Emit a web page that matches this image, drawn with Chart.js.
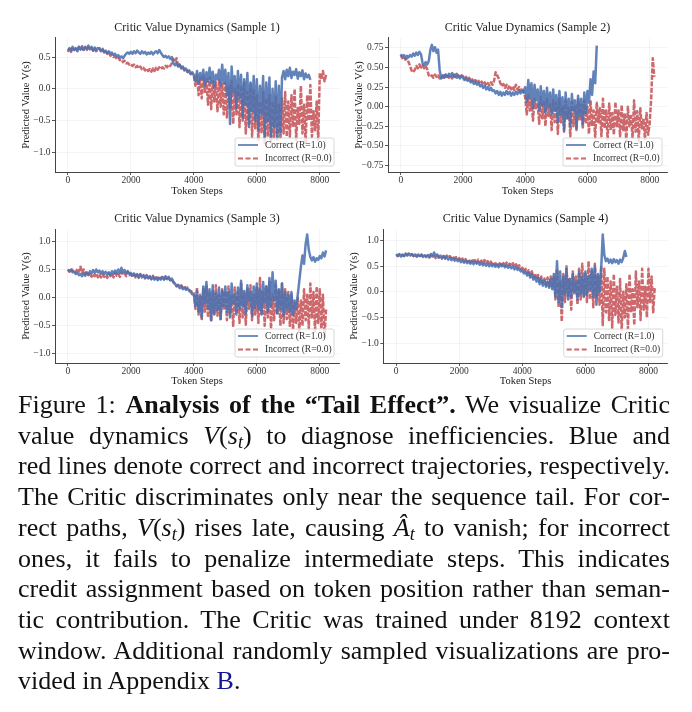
<!DOCTYPE html>
<html>
<head>
<meta charset="utf-8">
<script src="https://cdn.jsdelivr.net/npm/chart.js"></script>
<style>
  body { margin: 0; background: #fff; width: 692px; height: 712px; position: relative; overflow: hidden; }
  canvas { position: absolute; }
  #c1 { left: 0; top: 0; }
  #c2 { left: 346px; top: 0; }
  #c3 { left: 0; top: 200px; }
  #c4 { left: 346px; top: 200px; }
  #caption {
    position: absolute; left: 18px; top: 390px; width: 652px;
    font-family: 'Liberation Serif', 'Times New Roman', serif;
    font-size: 26px; line-height: 30.7px; color: #111;
  }
  #caption .ln { text-align: justify; text-align-last: justify; word-spacing: -3px; }
  #caption .ln.last { text-align: left; text-align-last: left; word-spacing: 0; }
  #caption sub { font-size: 0.7em; line-height: 0; vertical-align: -0.22em; }
  #caption .ref { color: rgb(20, 20, 150); }
</style>
</head>
<body>
<canvas id="c1" width="346" height="200"></canvas>
<canvas id="c2" width="346" height="200"></canvas>
<canvas id="c3" width="346" height="200"></canvas>
<canvas id="c4" width="346" height="200"></canvas>

<div id="caption">
  <div class="ln">Figure 1: <b>Analysis of the “Tail Effect”.</b> We visualize Critic</div>
  <div class="ln">value dynamics <i>V</i>(<i>s<sub>t</sub></i>) to diagnose inefficiencies. Blue and</div>
  <div class="ln">red lines denote correct and incorrect trajectories, respectively.</div>
  <div class="ln">The Critic discriminates only near the sequence tail. For cor-</div>
  <div class="ln">rect paths, <i>V</i>(<i>s<sub>t</sub></i>) rises late, causing <i>Â<sub>t</sub></i> to vanish; for incorrect</div>
  <div class="ln">ones, it fails to penalize intermediate steps. This indicates</div>
  <div class="ln">credit assignment based on token position rather than seman-</div>
  <div class="ln">tic contribution. The Critic was trained under 8192 context</div>
  <div class="ln">window. Additional randomly sampled visualizations are pro-</div>
  <div class="ln last">vided in Appendix <span class="ref">B</span>.</div>
</div>

<script>
// token step between two stored values
const STEP = 50;

const xTicks = [0, 2000, 4000, 6000, 8000];

// Sample 1
const correct1 = [
  0.58,0.63,0.60,0.66,0.61,0.64,0.59,0.66,0.62,0.67,0.61,0.65,0.63,0.68,0.62,0.66,0.60,0.65,0.61,0.64,
  0.63,0.59,0.62,0.58,0.60,0.56,0.59,0.55,0.57,0.53,0.55,0.51,0.53,0.49,0.51,0.48,0.52,0.55,0.57,0.55,
  0.58,0.55,0.59,0.56,0.60,0.57,0.55,0.59,0.56,0.58,0.54,0.57,0.55,0.58,0.54,0.57,0.59,0.56,0.61,0.57,
  0.53,0.50,0.52,0.49,0.51,0.47,0.50,0.40,0.37,0.41,0.35,0.38,0.33,0.35,0.30,0.32,0.27,0.29,0.24,0.26,
  0.22,0.12,0.28,0.08,0.25,0.15,0.30,0.05,0.26,0.12,0.33,0.10,0.27,0.02,0.22,0.15,0.30,0.05,0.38,0.08,
  0.30,-0.10,0.25,-0.55,0.35,-0.05,0.20,-0.30,0.28,-0.15,0.22,-0.45,0.15,-0.25,0.25,-0.60,0.10,-0.35,0.20,-0.50,
  0.15,-0.65,0.05,-0.40,0.20,-0.75,0.10,-0.50,0.18,-0.80,0.00,-0.60,0.12,-0.78,0.05,-0.70,
  0.18,0.28,0.15,0.30,0.20,0.33,0.17,0.27,0.22,0.31,0.16,0.26,0.20,0.29,0.15,0.24,0.18,0.22,0.14
];
const incorrect1 = [
  0.60,0.64,0.58,0.65,0.61,0.63,0.60,0.66,0.62,0.64,0.60,0.66,0.61,0.65,0.62,0.64,0.60,0.63,0.59,0.62,
  0.64,0.60,0.63,0.57,0.59,0.55,0.57,0.52,0.54,0.50,0.51,0.47,0.49,0.45,0.46,0.42,0.44,0.40,0.41,0.38,
  0.39,0.36,0.38,0.34,0.36,0.32,0.35,0.31,0.33,0.29,0.32,0.28,0.31,0.27,0.32,0.28,0.33,0.30,0.34,0.31,
  0.34,0.32,0.36,0.34,0.38,0.36,0.40,0.47,0.42,0.48,0.36,0.38,0.32,0.34,0.29,0.31,0.26,0.28,0.23,0.24,
  0.20,0.05,0.22,-0.10,0.18,-0.15,0.20,-0.05,0.15,-0.25,0.18,-0.32,0.12,-0.20,0.10,-0.35,0.15,-0.28,0.08,-0.40,
  0.10,-0.45,0.05,-0.30,0.12,-0.55,0.00,-0.40,0.08,-0.60,0.05,-0.50,0.10,-0.70,-0.05,-0.55,0.08,-0.75,0.00,-0.62,
  -0.10,-0.80,-0.20,-0.70,-0.05,-0.85,-0.15,-0.75,-0.10,-0.85,-0.20,-0.78,-0.12,-0.82,-0.25,-0.80,-0.15,-0.70,-0.05,-0.75,
  -0.20,-0.75,-0.10,-0.60,0.00,-0.80,-0.30,-0.55,0.05,-0.70,-0.25,-0.85,-0.10,-0.50,0.06,-0.75,-0.35,-0.65,-0.20,-0.80,
  0.25,0.15,0.28,0.12,0.22
];
const yTicks1 = [-1.0, -0.5, 0.0, 0.5];

// Sample 2
const correct2 = [
  0.67,0.64,0.66,0.62,0.65,0.63,0.66,0.64,0.68,0.65,0.69,0.66,0.70,0.67,0.56,0.53,0.57,0.54,0.58,0.72,
  0.79,0.71,0.76,0.69,0.73,0.47,0.36,0.40,0.37,0.41,0.38,0.42,0.39,0.43,0.38,0.41,0.37,0.40,0.36,0.39,
  0.37,0.34,0.36,0.33,0.35,0.31,0.33,0.29,0.32,0.28,0.30,0.26,0.28,0.24,0.27,0.22,0.25,0.21,0.24,0.20,
  0.21,0.17,0.20,0.15,0.19,0.14,0.18,0.15,0.20,0.16,0.19,0.14,0.18,0.15,0.19,0.16,0.21,0.17,0.20,0.18,
  0.25,0.05,0.34,0.10,0.30,-0.02,0.28,0.08,0.22,-0.05,0.26,0.02,0.20,-0.08,0.24,0.00,0.18,-0.10,0.22,-0.05,
  0.15,-0.20,0.20,-0.10,0.12,-0.30,0.18,-0.15,0.10,-0.25,0.16,-0.05,0.08,-0.28,0.14,-0.12,0.10,-0.22,0.18,-0.08,
  0.20,0.05,0.35,0.15,0.45,0.30,0.78
];
const incorrect2 = [
  0.66,0.62,0.64,0.60,0.61,0.57,0.52,0.46,0.44,0.47,0.52,0.49,0.54,0.50,0.53,0.49,0.52,0.48,0.40,0.38,
  0.40,0.37,0.41,0.38,0.40,0.36,0.39,0.37,0.42,0.38,0.41,0.37,0.40,0.36,0.41,0.38,0.42,0.39,0.37,0.40,
  0.39,0.35,0.38,0.34,0.37,0.33,0.35,0.31,0.34,0.30,0.33,0.29,0.32,0.28,0.31,0.27,0.30,0.27,0.31,0.28,
  0.33,0.44,0.40,0.36,0.30,0.26,0.29,0.24,0.28,0.23,0.27,0.22,0.26,0.21,0.28,0.22,0.25,0.20,0.24,0.19,
  0.12,-0.10,0.15,-0.05,0.08,-0.18,0.10,-0.02,0.05,-0.22,0.12,-0.15,0.06,-0.25,0.10,-0.12,0.03,-0.30,0.08,-0.20,
  0.05,-0.35,0.10,-0.20,0.00,-0.32,0.08,-0.15,-0.02,-0.38,0.06,-0.25,0.00,-0.30,0.10,-0.18,0.02,-0.28,0.08,-0.22,
  0.00,-0.35,0.08,-0.25,-0.05,-0.40,0.05,-0.20,-0.02,-0.38,0.10,-0.28,-0.05,-0.42,0.04,-0.30,-0.08,-0.36,0.06,-0.25,
  -0.05,-0.38,0.02,-0.30,-0.10,-0.45,0.00,-0.25,-0.12,-0.40,0.08,-0.32,-0.06,-0.44,-0.02,-0.28,-0.15,-0.42,-0.08,-0.36,
  -0.22,0.10,0.62,0.38
];
const yTicks2 = [-0.75, -0.5, -0.25, 0.0, 0.25, 0.5, 0.75];

// Sample 3
const correct3 = [
  0.50,0.47,0.49,0.45,0.46,0.42,0.44,0.40,0.42,0.38,0.43,0.39,0.45,0.41,0.47,0.43,0.49,0.44,0.50,0.45,
  0.48,0.43,0.47,0.42,0.46,0.41,0.45,0.40,0.47,0.42,0.48,0.43,0.50,0.44,0.53,0.45,0.49,0.43,0.47,0.42,
  0.44,0.39,0.43,0.38,0.42,0.37,0.41,0.36,0.40,0.35,0.39,0.34,0.38,0.33,0.37,0.32,0.36,0.31,0.35,0.32,
  0.36,0.32,0.38,0.33,0.37,0.31,0.34,0.28,0.25,0.20,0.22,0.17,0.20,0.15,0.18,0.14,0.16,0.12,0.10,0.06,
  0.05,-0.15,0.12,-0.25,0.02,-0.35,0.20,-0.10,0.28,-0.20,0.15,-0.40,0.22,-0.30,0.08,-0.22,0.18,-0.38,0.12,-0.15,
  0.20,-0.25,0.10,-0.35,0.25,-0.10,0.05,-0.30,0.18,-0.20,0.30,-0.15,0.12,-0.28,0.22,-0.05,0.10,-0.32,0.20,-0.18,
  0.25,-0.20,0.15,-0.30,0.28,-0.10,0.20,-0.25,0.35,-0.15,0.45,-0.05,0.30,-0.28,0.15,-0.20,0.25,-0.32,0.10,-0.22,
  0.05,-0.25,0.10,-0.30,-0.05,-0.20,0.05,0.30,0.55,0.75,0.60,0.95,1.12,0.85,0.72,0.66,0.72,0.64,0.70,0.67,
  0.74,0.70,0.80,0.73,0.84
];
const incorrect3 = [
  0.50,0.46,0.52,0.47,0.49,0.45,0.51,0.46,0.55,0.44,0.50,0.42,0.46,0.40,0.44,0.37,0.42,0.38,0.43,0.36,
  0.41,0.36,0.42,0.37,0.40,0.35,0.43,0.38,0.41,0.36,0.44,0.39,0.42,0.37,0.45,0.40,0.43,0.38,0.46,0.40,
  0.42,0.37,0.41,0.36,0.40,0.35,0.42,0.37,0.39,0.34,0.40,0.35,0.38,0.33,0.39,0.34,0.37,0.33,0.38,0.34,
  0.37,0.33,0.36,0.32,0.35,0.31,0.33,0.27,0.24,0.21,0.23,0.19,0.22,0.18,0.20,0.16,0.18,0.14,0.12,0.10,
  0.10,-0.20,0.18,-0.30,0.05,-0.40,0.15,-0.25,0.20,-0.35,0.08,-0.42,0.12,-0.28,0.22,-0.32,0.05,-0.38,0.15,-0.22,
  0.12,-0.40,0.20,-0.30,0.05,-0.50,0.18,-0.25,0.10,-0.45,0.25,-0.35,0.08,-0.48,0.15,-0.20,0.22,-0.40,0.05,-0.30,
  0.18,-0.45,0.35,-0.30,0.10,-0.50,0.20,-0.35,0.28,-0.55,0.05,-0.40,0.22,-0.30,0.12,-0.50,0.25,-0.45,0.15,-0.38,
  0.10,-0.50,0.05,-0.58,-0.10,-0.45,0.00,-0.60,-0.05,-0.50,0.15,-0.40,0.05,-0.55,0.25,-0.35,0.10,-0.62,0.20,-0.45,
  0.15,-0.55,0.05,-0.70,-0.20
];
const yTicks3 = [-1.0, -0.5, 0.0, 0.5, 1.0];

// Sample 4
const correct4 = [
  0.74,0.70,0.73,0.69,0.72,0.70,0.74,0.71,0.75,0.72,0.74,0.70,0.73,0.69,0.72,0.70,0.73,0.69,0.71,0.68,
  0.72,0.68,0.74,0.69,0.77,0.70,0.73,0.67,0.71,0.66,0.70,0.65,0.68,0.63,0.67,0.62,0.66,0.61,0.65,0.60,
  0.63,0.58,0.62,0.57,0.61,0.56,0.60,0.55,0.59,0.54,0.60,0.55,0.58,0.53,0.57,0.52,0.56,0.51,0.55,0.50,
  0.55,0.50,0.54,0.49,0.53,0.48,0.54,0.50,0.53,0.48,0.52,0.47,0.51,0.46,0.50,0.44,0.49,0.43,0.46,0.40,
  0.42,0.36,0.40,0.32,0.38,0.28,0.35,0.24,0.30,0.20,0.28,0.15,0.25,0.12,0.22,0.10,0.20,0.08,0.25,0.05,
  0.35,-0.10,0.60,-0.20,0.40,-0.30,0.30,-0.05,0.45,-0.15,0.25,-0.10,0.35,0.00,0.20,-0.15,0.40,-0.05,0.30,-0.10,
  0.40,-0.05,0.30,0.05,0.45,-0.10,0.50,-0.25,0.35,0.00,0.45,
  1.12,0.72,0.60,0.65,0.57,0.63,0.56,0.64,0.58,0.62,0.55,0.63,0.58,0.66,0.80,0.68
];
const incorrect4 = [
  0.72,0.70,0.74,0.71,0.73,0.70,0.75,0.72,0.74,0.71,0.73,0.70,0.72,0.69,0.73,0.70,0.72,0.68,0.71,0.69,
  0.71,0.67,0.72,0.68,0.70,0.66,0.71,0.67,0.69,0.65,0.70,0.66,0.71,0.67,0.70,0.66,0.69,0.65,0.68,0.64,
  0.66,0.61,0.65,0.60,0.64,0.59,0.63,0.58,0.64,0.59,0.62,0.57,0.63,0.58,0.61,0.56,0.62,0.57,0.60,0.56,
  0.59,0.54,0.58,0.53,0.57,0.52,0.58,0.53,0.56,0.51,0.57,0.52,0.55,0.50,0.56,0.49,0.54,0.47,0.52,0.45,
  0.47,0.40,0.45,0.36,0.42,0.32,0.40,0.28,0.36,0.24,0.33,0.20,0.30,0.17,0.26,0.14,0.28,0.12,0.30,0.08,
  0.30,-0.15,0.45,-0.30,0.20,-0.58,0.35,-0.20,0.50,-0.10,0.25,-0.35,0.40,-0.05,0.30,-0.25,0.45,-0.15,0.55,-0.10,
  0.35,-0.20,0.60,-0.15,0.40,-0.30,0.55,-0.10,0.30,-0.25,0.50,-0.65,0.45,-0.40,0.30,-0.55,0.20,-0.70,0.35,-0.45,
  0.10,-0.60,0.25,-0.75,0.00,-0.50,0.15,-0.72,0.35,-0.40,0.05,-0.65,0.40,-0.30,0.20,-0.55,0.45,-0.35,0.10,-0.50,
  0.45,-0.20,0.30,-0.40,0.10
];
const yTicks4 = [-1.0, -0.5, 0.0, 0.5, 1.0];

const SERIF = "'Liberation Serif', 'Times New Roman', serif";
const BLUE = 'rgba(76, 114, 176, 0.88)';
const RED = 'rgba(196, 78, 82, 0.85)';

function toPoints(values) {
  return values.map((v, i) => ({ x: i * STEP, y: v }));
}

function fmt(v, digits) {
  const s = Math.abs(v).toFixed(digits);
  return v < -1e-9 ? '\u2212' + s : s;
}

// matplotlib style legend box in the lower right of the plot area
const boxLegend = {
  id: 'boxLegend',
  afterDraw(chart) {
    const { ctx, chartArea: a } = chart;
    const w = 99, h = 28;
    const x = a.right - 5 - w, y = a.bottom - 6 - h;
    ctx.save();
    ctx.beginPath();
    ctx.roundRect(x, y, w, h, 2);
    ctx.fillStyle = 'rgba(255,255,255,0.8)';
    ctx.fill();
    ctx.strokeStyle = 'rgba(200,200,200,0.9)';
    ctx.lineWidth = 0.8;
    ctx.stroke();
    chart.data.datasets.forEach((ds, i) => {
      const ly = y + 7 + i * 13.5;
      ctx.beginPath();
      ctx.setLineDash(ds.legendDash || []);
      ctx.strokeStyle = ds.borderColor;
      ctx.lineWidth = 1.8;
      ctx.moveTo(x + 3, ly);
      ctx.lineTo(x + 23, ly);
      ctx.stroke();
      ctx.setLineDash([]);
      ctx.fillStyle = '#333';
      ctx.font = '9.5px ' + SERIF;
      ctx.textBaseline = 'middle';
      ctx.fillText(ds.label, x + 30, ly);
    });
    ctx.restore();
  }
};

function panel(id, p) {
  new Chart(document.getElementById(id), {
    type: 'line',
    data: {
      datasets: [
        { label: 'Correct (R=1.0)', data: toPoints(p.correct), borderColor: BLUE, borderWidth: 2.5 },
        { label: 'Incorrect (R=0.0)', data: toPoints(p.incorrect), borderColor: RED, borderWidth: 2.5,
          borderDash: [5, 1.5], legendDash: [5, 2.5] }
      ]
    },
    options: {
      responsive: false,
      animation: false,
      events: [],
      elements: {
        point: { radius: 0 },
        line: { tension: 0, fill: false, borderJoinStyle: 'round' }
      },
      layout: { padding: { left: 0, right: p.padRight, top: 0, bottom: 0 } },
      plugins: {
        legend: { display: false },
        tooltip: { enabled: false },
        title: {
          display: true, fullSize: false, text: p.title, color: '#222',
          font: { family: SERIF, size: 12, weight: 'normal' },
          padding: { top: p.titleTop, bottom: 2.5 }
        }
      },
      scales: {
        x: {
          type: 'linear', min: -410, max: p.xMax,
          afterBuildTicks: s => { s.ticks = xTicks.map(v => ({ value: v })); },
          afterFit: s => { s.height = p.xHeight; },
          ticks: { color: '#333', font: { family: SERIF, size: 9.5 }, padding: 0, maxRotation: 0, autoSkip: false,
                   callback: v => String(v) },
          grid: { color: 'rgba(0,0,0,0.06)', lineWidth: 0.8, tickLength: 3, tickColor: '#444', tickWidth: 0.9 },
          border: { color: '#444', width: 1 },
          title: { display: true, text: 'Token Steps', color: '#222', font: { family: SERIF, size: 10.5 },
                   padding: { top: 0, bottom: p.xTitlePad } }
        },
        y: {
          min: p.yMin, max: p.yMax,
          afterBuildTicks: s => { s.ticks = p.yTicks.map(v => ({ value: v })); },
          afterFit: s => { s.width = p.yWidth; },
          ticks: { color: '#333', font: { family: SERIF, size: 9.5 }, padding: 1.5,
                   callback: v => fmt(v, p.digits) },
          grid: { color: 'rgba(0,0,0,0.06)', lineWidth: 0.8, tickLength: 3, tickColor: '#444', tickWidth: 0.9 },
          border: { color: '#444', width: 1 },
          title: { display: true, text: 'Predicted Value V(s)', color: '#222', font: { family: SERIF, size: 10.5 },
                   padding: { top: p.yTitlePad, bottom: 0 } }
        }
      }
    },
    plugins: [boxLegend]
  });
}

panel('c1', { title: 'Critic Value Dynamics (Sample 1)', correct: correct1, incorrect: incorrect1,
  yMin: -1.305, yMax: 0.80, yTicks: yTicks1, digits: 1, xMax: 8610,
  yWidth: 55, xHeight: 28, padRight: 7, titleTop: 21, xTitlePad: 2.7, yTitlePad: 19.7 });

panel('c2', { title: 'Critic Value Dynamics (Sample 2)', correct: correct2, incorrect: incorrect2,
  yMin: -0.836, yMax: 0.879, yTicks: yTicks2, digits: 2, xMax: 8558,
  yWidth: 42, xHeight: 28, padRight: 25, titleTop: 21, xTitlePad: 2.7, yTitlePad: 7 });

panel('c3', { title: 'Critic Value Dynamics (Sample 3)', correct: correct3, incorrect: incorrect3,
  yMin: -1.16, yMax: 1.219, yTicks: yTicks3, digits: 1, xMax: 8610,
  yWidth: 55, xHeight: 37, padRight: 7, titleTop: 12.1, xTitlePad: 12.7, yTitlePad: 19.7 });

panel('c4', { title: 'Critic Value Dynamics (Sample 4)', correct: correct4, incorrect: incorrect4,
  yMin: -1.39, yMax: 1.228, yTicks: yTicks4, digits: 1, xMax: 8610,
  yWidth: 37.3, xHeight: 37, padRight: 24.3, titleTop: 12.1, xTitlePad: 12.7, yTitlePad: 2 });
</script>
</body>
</html>
